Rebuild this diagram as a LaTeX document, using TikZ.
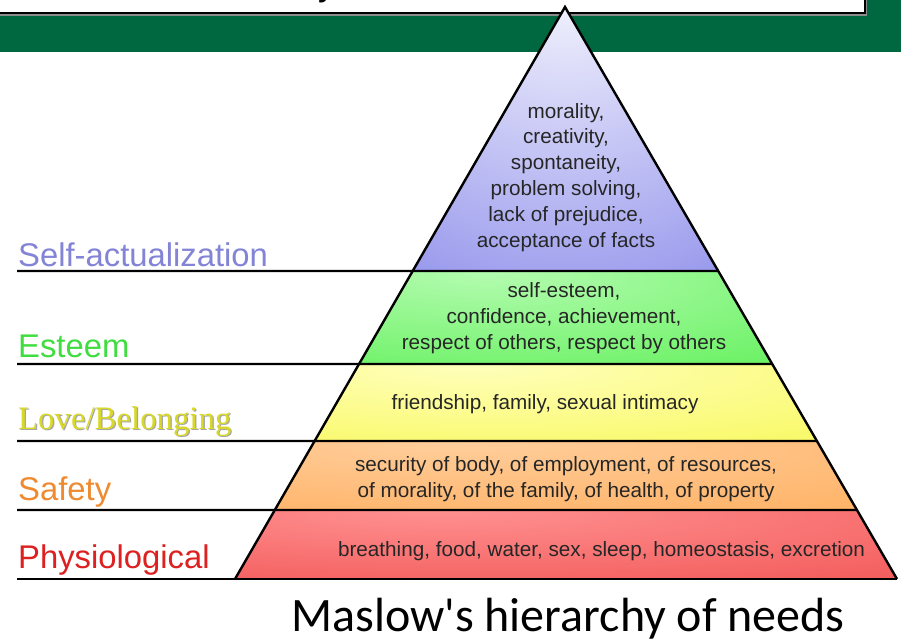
\documentclass[tikz,border=0pt]{standalone}
\usepackage{fontspec}
\setmainfont{Liberation Sans}
\newfontfamily\arialf{Liberation Sans}
\newfontfamily\seriff{Liberation Serif}
\newfontfamily\calibf{Carlito}
\usetikzlibrary{calc}
\definecolor{bargreen}{HTML}{006840}
\definecolor{saIn}{HTML}{F6F6FE}
\definecolor{saOut}{HTML}{7E7EE8}
\definecolor{esIn}{HTML}{B4FCB0}
\definecolor{esOut}{HTML}{48EC40}
\definecolor{loIn}{HTML}{FFFFBC}
\definecolor{loOut}{HTML}{F6F640}
\definecolor{sfIn}{HTML}{FFCE9C}
\definecolor{sfOut}{HTML}{FFA64E}
\definecolor{phIn}{HTML}{FF9090}
\definecolor{phOut}{HTML}{EE4444}
\definecolor{saLbl}{HTML}{8484D6}
\definecolor{esLbl}{HTML}{40DD40}
\definecolor{loLbl}{HTML}{D8D828}
\definecolor{sfLbl}{HTML}{EE8A30}
\definecolor{phLbl}{HTML}{DD2020}
\pgfdeclareradialshading{shSA}{\pgfpoint{0bp}{30bp}}{color(0bp)=(saIn); color(65bp)=(saOut); color(130bp)=(saOut)}
\pgfdeclareradialshading{shES}{\pgfpoint{-10bp}{25bp}}{color(0bp)=(esIn); color(75bp)=(esOut); color(130bp)=(esOut)}
\pgfdeclareradialshading{shLO}{\pgfpoint{-10bp}{25bp}}{color(0bp)=(loIn); color(75bp)=(loOut); color(130bp)=(loOut)}
\pgfdeclareradialshading{shSF}{\pgfpoint{-10bp}{25bp}}{color(0bp)=(sfIn); color(75bp)=(sfOut); color(130bp)=(sfOut)}
\pgfdeclareradialshading{shPH}{\pgfpoint{-10bp}{25bp}}{color(0bp)=(phIn); color(75bp)=(phOut); color(130bp)=(phOut)}
\tikzset{
  lvl/.style={draw=black,line width=2.2pt},
  edge/.style={draw=black,line width=2.4pt,line join=miter},
  inner/.style={font=\arialf\fontsize{20.7}{25.9}\selectfont,align=center,anchor=base,inner sep=0pt,text=black!85},
  lbl/.style={font=\arialf\fontsize{32.8}{34}\selectfont,anchor=base west,inner sep=0pt},
}
\begin{document}
\begin{tikzpicture}[x=1pt,y=-1pt]
\useasboundingbox (0,0) rectangle (901,640);
\fill[white] (0,0) rectangle (901,640);
% top bar and title box
\fill[bargreen] (0,0) rectangle (901,52);
\fill[black!45] (-5,-5) rectangle (867,15.5);
\filldraw[fill=white,draw=black,line width=1.6pt] (-5,-5) rectangle (865,13);
\begin{scope}
\clip (0,0) rectangle (864,12);
\node[font=\arialf\fontsize{36}{36}\selectfont,anchor=base,inner sep=0pt] (title) at (327,-4.5) {y};
\end{scope}
% pyramid geometry
\coordinate (A) at (565,7);
\coordinate (BL) at (235,579);
\coordinate (BR) at (897,579);
\coordinate (L1) at ($(A)!0.46154!(BL)$);
\coordinate (R1) at ($(A)!0.46154!(BR)$);
\coordinate (L2) at ($(A)!0.62413!(BL)$);
\coordinate (R2) at ($(A)!0.62413!(BR)$);
\coordinate (L3) at ($(A)!0.75874!(BL)$);
\coordinate (R3) at ($(A)!0.75874!(BR)$);
\coordinate (L4) at ($(A)!0.87937!(BL)$);
\coordinate (R4) at ($(A)!0.87937!(BR)$);
% bands
\shade[shading=shSA] (A) -- (R1) -- (L1) -- cycle;
\shade[shading=shES] (L1) -- (R1) -- (R2) -- (L2) -- cycle;
\shade[shading=shLO] (L2) -- (R2) -- (R3) -- (L3) -- cycle;
\shade[shading=shSF] (L3) -- (R3) -- (R4) -- (L4) -- cycle;
\shade[shading=shPH] (L4) -- (R4) -- (BR) -- (BL) -- cycle;
% level lines
\coordinate (S1) at (17,271);
\coordinate (S2) at (17,364);
\coordinate (S3) at (17,441);
\coordinate (S4) at (17,510);
\coordinate (S5) at (17,579);
\draw[lvl] (S1) -- (R1);
\draw[lvl] (S2) -- (R2);
\draw[lvl] (S3) -- (R3);
\draw[lvl] (S4) -- (R4);
\draw[lvl] (S5) -- (BR);
\draw[edge] (BL) -- (A) -- (BR);
% texts inside (anchor = baseline of the last line)
\node[inner] (tsa) at (566,247.5) {morality,\\creativity,\\spontaneity,\\problem solving,\\lack of prejudice,\\acceptance of facts};
\node[inner] (tes) at (564,349.5) {self-esteem,\\confidence, achievement,\\respect of others, respect by others};
\node[inner] (tlo) at (545,409) {friendship, family, sexual intimacy};
\node[inner] (tsf) at (566,497) {security of body, of employment, of resources,\\of morality, of the family, of health, of property};
\node[inner] (tph) at (601.5,556) {breathing, food, water, sex, sleep, homeostasis, excretion};
% labels
\node[lbl,text=saLbl] (lsa) at (18,266) {Self-actualization};
\node[lbl,text=esLbl] (les) at (18,357) {Esteem};
\node[lbl,font=\seriff\fontsize{32.8}{34}\selectfont,text=black!35] (lloS) at (19.2,430.2) {Love/Belonging};
\node[lbl,font=\seriff\fontsize{32.8}{34}\selectfont,text=loLbl] (llo) at (18,429) {Love/Belonging};
\node[lbl,text=sfLbl] (lsf) at (18,500.5) {Safety};
\node[lbl,text=phLbl] (lph) at (18,568.5) {Physiological};
% caption
\node[font=\calibf\fontsize{48}{50}\selectfont,anchor=base,inner sep=0pt] (cap) at (568,631) {Maslow's hierarchy of needs};
\end{tikzpicture}
\end{document}
